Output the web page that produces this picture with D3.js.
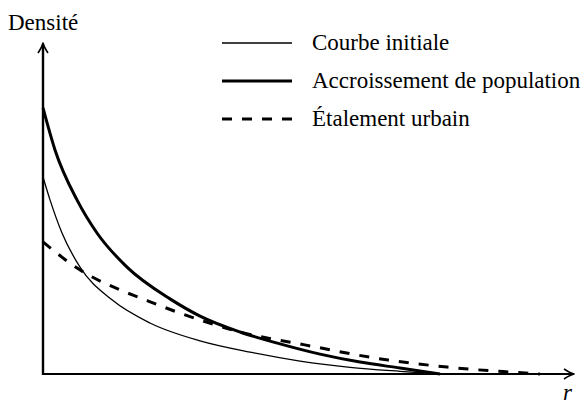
<!DOCTYPE html>
<html>
<head>
<meta charset="utf-8">
<script src="https://cdn.jsdelivr.net/npm/d3@7"></script>
<style>
  html, body { margin: 0; padding: 0; background: #fff; }
  svg { display: block; }
  svg text { font-family: "Liberation Serif", Tinos, "Times New Roman", Times, "DejaVu Serif", serif; }
</style>
</head>
<body>
<svg id="chart" width="586" height="405"></svg>
<script>
// Distance from the centre (r) and density, in arbitrary units
const rInitial = [0, 0.132, 0.358, 0.697, 1.299, 2.015, 2.957, 3.898, 4.840, 5.782, 6.723, 7.476];
const dInitial = [5.95, 5.26, 4.26, 3.23, 2.24, 1.54, 1.00, 0.66, 0.39, 0.20, 0.08, 0];

const rGrowth = [0, 0.226, 0.640, 1.017, 1.582, 2.392, 2.957, 3.710, 4.463, 5.217, 5.970, 6.723, 7.476];
const dGrowth = [8.04, 6.77, 5.26, 4.26, 3.23, 2.27, 1.75, 1.27, 0.91, 0.60, 0.36, 0.18, 0];

const rSprawl = [0, 0.70, 1.45, 1.83, 2.58, 3.71, 4.93, 6.50, 7.61, 8.08, 8.89, 9.36];
const dSprawl = [3.99, 3.14, 2.54, 2.30, 1.84, 1.27, 0.88, 0.42, 0.21, 0.14, 0.05, 0];

const seriesNames = ["Courbe initiale", "Accroissement de population", "Étalement urbain"];
const axisTitleY = "Densité";
const axisTitleX = "r";

const svg = d3.select("#chart");

const x = d3.scaleLinear().domain([0, 10]).range([43, 574]);
const y = d3.scaleLinear().domain([0, 10]).range([374, 43]);

const styles = [
  { width: 1.3, dash: null },
  { width: 3, dash: null },
  { width: 3, dash: "10,10" }
];

const series = [
  rInitial.map((r, i) => ({ r, d: dInitial[i] })),
  rGrowth.map((r, i) => ({ r, d: dGrowth[i] })),
  rSprawl.map((r, i) => ({ r, d: dSprawl[i] }))
];

const line = d3.line()
  .x(p => x(p.r))
  .y(p => y(p.d))
  .curve(d3.curveMonotoneX);

// Curves
svg.append("g").selectAll("path")
  .data(series)
  .join("path")
  .attr("d", line)
  .attr("fill", "none")
  .attr("stroke", "#000")
  .attr("stroke-width", (d, i) => styles[i].width)
  .attr("stroke-dasharray", (d, i) => styles[i].dash);

// Axes with arrow heads
const x0 = x(0), y0 = y(0);
const xEnd = x.range()[1], yEnd = y.range()[1];

svg.append("line")
  .attr("x1", x0 - 1).attr("y1", y0).attr("x2", xEnd - 1).attr("y2", y0)
  .attr("stroke", "#000").attr("stroke-width", 2.2);
svg.append("line")
  .attr("x1", x0).attr("y1", y0 + 1).attr("x2", x0).attr("y2", yEnd + 1)
  .attr("stroke", "#000").attr("stroke-width", 2.4);

svg.append("path")
  .attr("d", `M${xEnd - 10},${y0 - 5} Q${xEnd - 4},${y0 - 1} ${xEnd},${y0} Q${xEnd - 4},${y0 + 1} ${xEnd - 10},${y0 + 5}`)
  .attr("fill", "none").attr("stroke", "#000").attr("stroke-width", 1.6)
  .attr("stroke-linejoin", "round");
svg.append("path")
  .attr("d", `M${x0 - 5},${yEnd + 10} Q${x0 - 1},${yEnd + 4} ${x0},${yEnd} Q${x0 + 1},${yEnd + 4} ${x0 + 5},${yEnd + 10}`)
  .attr("fill", "none").attr("stroke", "#000").attr("stroke-width", 1.6)
  .attr("stroke-linejoin", "round");

// Axis titles
svg.append("text")
  .attr("x", 8).attr("y", 30)
  .attr("font-size", 23)
  .text(axisTitleY);

svg.append("text")
  .attr("x", 563).attr("y", 400)
  .attr("font-size", 23)
  .attr("font-style", "italic")
  .text(axisTitleX);

// Legend
const legend = svg.append("g");
const legendY = [43, 81, 119];
seriesNames.forEach((name, i) => {
  legend.append("line")
    .attr("x1", 222).attr("x2", 292)
    .attr("y1", legendY[i]).attr("y2", legendY[i])
    .attr("stroke", "#000")
    .attr("stroke-width", styles[i].width)
    .attr("stroke-dasharray", styles[i].dash);
  legend.append("text")
    .attr("x", 312).attr("y", legendY[i] + 7)
    .attr("font-size", 23)
    .text(name);
});
</script>
</body>
</html>
